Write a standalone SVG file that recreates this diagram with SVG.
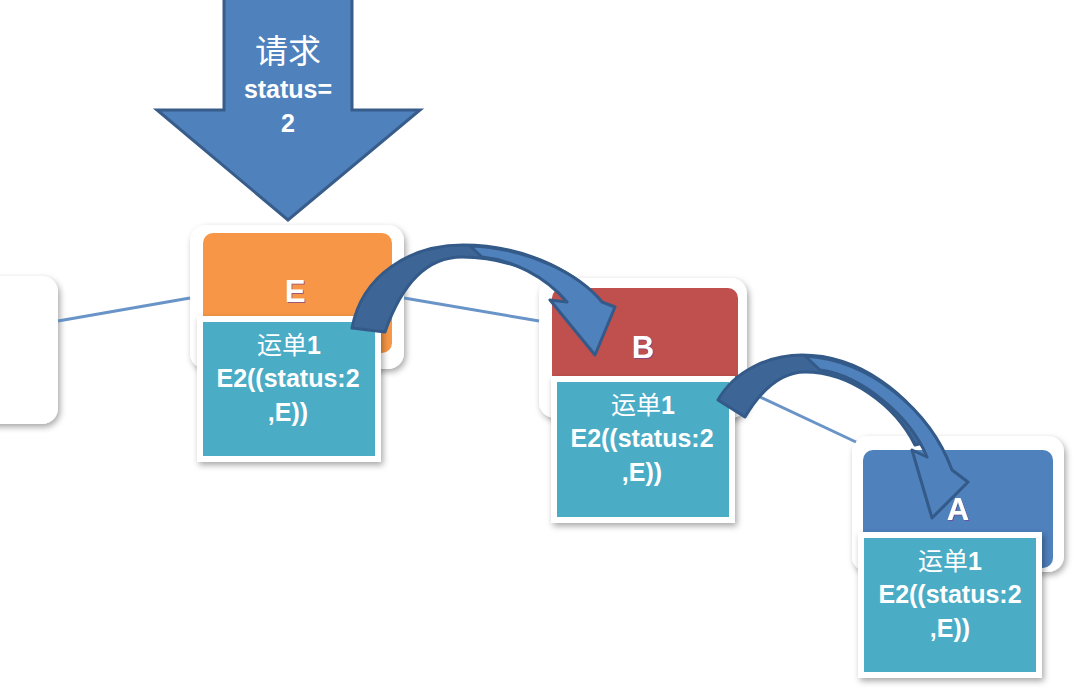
<svg xmlns="http://www.w3.org/2000/svg" width="1074" height="689" viewBox="0 0 1074 689">
<defs>
<filter id="sh" x="-20%" y="-20%" width="140%" height="140%">
<feDropShadow dx="2" dy="3" stdDeviation="3" flood-color="#000" flood-opacity="0.35"/>
</filter>
<filter id="tsh" x="-20%" y="-20%" width="140%" height="140%">
<feDropShadow dx="1" dy="1" stdDeviation="0.6" flood-color="#7a3b8c" flood-opacity="0.7"/>
</filter>
</defs>
<style>
.frame{fill:#fff;filter:url(#sh)}
.teal{fill:#4BACC6;stroke:#fff;stroke-width:6;filter:url(#sh)}
.letter{font-family:"Liberation Sans",Arial,sans-serif;font-weight:bold;font-size:31px;fill:#fff;text-anchor:middle;filter:url(#tsh)}
.lbl{font-family:"Liberation Sans","Noto Sans CJK SC",sans-serif;font-weight:bold;font-size:25px;fill:#fff;text-anchor:middle}
.cjk{font-family:"Noto Sans CJK SC",sans-serif;font-weight:normal}
.link{stroke:#4F81BD;stroke-width:3;fill:none;opacity:0.85}
.cdark{fill:#3D6697;stroke:#335A88;stroke-width:3;stroke-linejoin:round}
.clight{fill:#4F81BD;stroke:#335A88;stroke-width:3;stroke-linejoin:round}
</style>

<g id="node-left">
<rect class="frame" x="-160" y="276" width="218" height="148" rx="16"/>
</g>

<g id="node-E">
<rect class="frame" x="190" y="225" width="214" height="144" rx="16"/>
<rect x="203" y="233" width="189" height="120" rx="10" fill="#F79646"/>
<text class="letter" x="295" y="302">E</text>
<rect class="teal" x="200" y="319" width="178" height="140"/>
<text class="lbl" x="289" y="354"><tspan class="cjk">运单</tspan>1</text>
<text class="lbl" x="288" y="387">E2((status:2</text>
<text class="lbl" x="288" y="421">,E))</text>
</g>

<g id="node-B">
<rect class="frame" x="539" y="278" width="208" height="140" rx="16"/>
<rect x="552" y="288" width="186" height="120" rx="10" fill="#C0504D"/>
<text class="letter" x="643" y="358">B</text>
<rect class="teal" x="554" y="379" width="178" height="141"/>
<text class="lbl" x="643" y="414"><tspan class="cjk">运单</tspan>1</text>
<text class="lbl" x="642" y="447">E2((status:2</text>
<text class="lbl" x="642" y="481">,E))</text>
</g>

<g id="node-A">
<rect class="frame" x="852" y="436" width="212" height="136" rx="16"/>
<rect x="863" y="450" width="190" height="118" rx="10" fill="#4F81BD"/>
<text class="letter" x="958" y="520">A</text>
<rect class="teal" x="861" y="535" width="178" height="140"/>
<text class="lbl" x="950" y="570"><tspan class="cjk">运单</tspan>1</text>
<text class="lbl" x="950" y="603">E2((status:2</text>
<text class="lbl" x="950" y="637">,E))</text>
</g>

<g id="node-request">
<polygon points="224,-2 352,-2 352,110 420,110 288,220 157,110 224,110" fill="#4F81BD" stroke="#385D8A" stroke-width="3" stroke-linejoin="miter"/>
<text x="288" y="63" font-family="'Noto Sans CJK SC',sans-serif" font-size="33" fill="#fff" text-anchor="middle">请求</text>
<text x="288" y="98" font-family="'Liberation Sans',sans-serif" font-weight="bold" font-size="25" fill="#fff" text-anchor="middle">status=</text>
<text x="288" y="132" font-family="'Liberation Sans',sans-serif" font-weight="bold" font-size="25" fill="#fff" text-anchor="middle">2</text>
</g>

<g id="connectors">
<line class="link" x1="58" y1="321" x2="190" y2="298"/>
<line class="link" x1="404" y1="298" x2="539" y2="321"/>
<line class="link" x1="745" y1="390" x2="856" y2="442"/>
<g id="arrow-E-B">
<path class="cdark" d="M352,328 C362,275 410,245 463,245 C520,245 570,268 600,300 L575,300 C548,274 505,257 462,257 C430,257 403,280 385,332 Z"/>
<path class="clight" d="M470,246 C530,248 580,275 602,302 L615,307 L595,355 L550,300 L567,302 C545,276 512,260 482,257 Z"/>
</g>
<g id="arrow-B-A">
<path class="cdark" d="M718,400 C735,370 770,355 802,355 C860,355 910,395 935,440 L915,445 C895,405 850,372 805,372 C780,372 760,392 745,417 Z"/>
<path class="clight" d="M805,356 C870,360 930,410 952,470 L968,482 L932,518 L912,450 L927,457 C910,415 860,375 820,370 Z"/>
</g>
</g>
</svg>
